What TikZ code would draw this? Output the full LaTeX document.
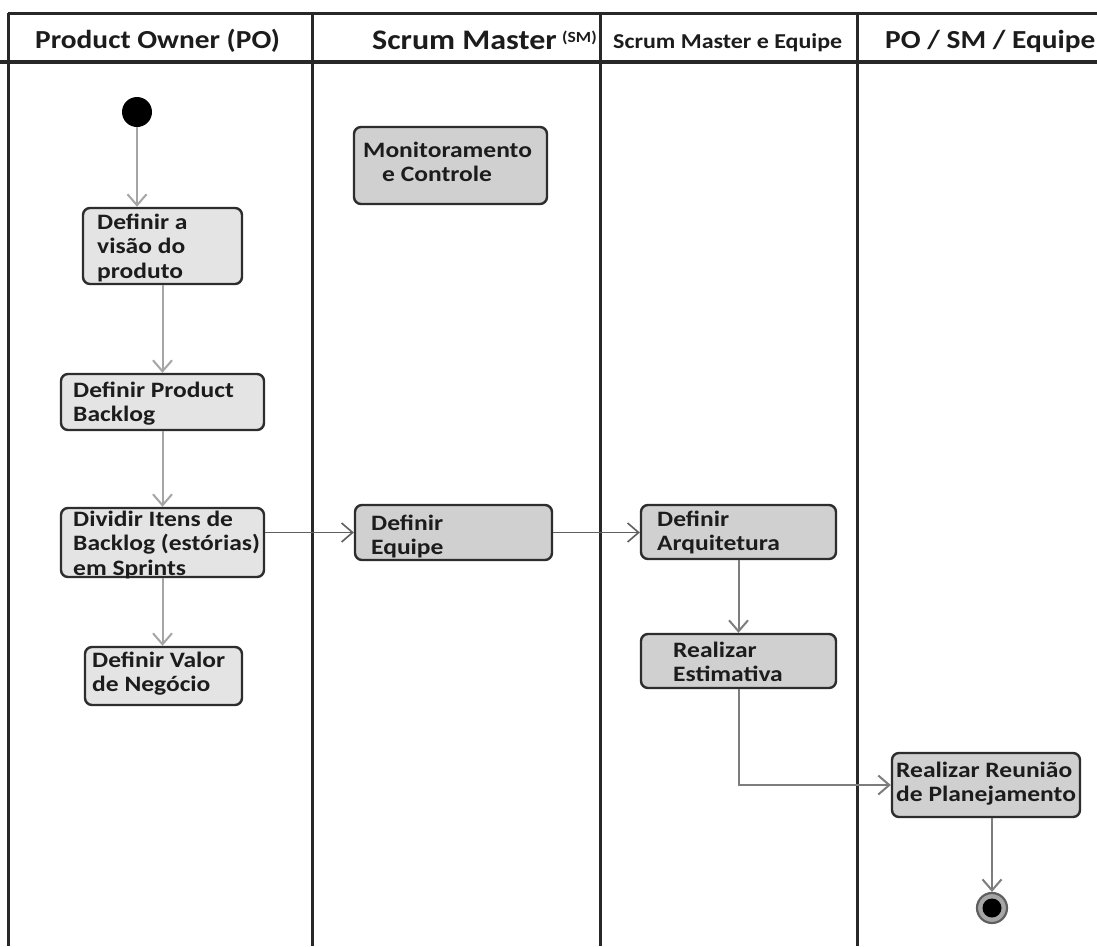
\documentclass[tikz,border=0pt]{standalone}
\usepackage{fontspec}
\newfontfamily\carl[FakeStretch=1.13]{Carlito}
\newfontfamily\carlbox[FakeStretch=1.16]{Carlito}
\usetikzlibrary{arrows.meta}

\definecolor{rule}{RGB}{40,40,40}
\definecolor{edge}{RGB}{45,45,45}
\definecolor{fillpo}{RGB}{228,228,228}
\definecolor{fillsm}{RGB}{208,208,208}
\definecolor{ink}{RGB}{28,28,28}
\definecolor{flowlight}{RGB}{165,165,165}
\definecolor{flowmid}{RGB}{125,125,125}
\definecolor{flowdark}{RGB}{95,95,95}

% stacked, left-aligned lines whose base is the first line's baseline
\newcommand{\boxlines}[1]{\begin{tabular}[t]{@{}l@{}}#1\end{tabular}}

\begin{document}
\begin{tikzpicture}[x=1pt,y=-1pt,
  box/.style={draw=edge, line width=2.4pt, rounded corners=7pt, inner sep=0pt},
  pobox/.style={box, fill=fillpo},
  smbox/.style={box, fill=fillsm},
  txt/.style={anchor=base west, inner sep=0pt, text=ink,
    font=\carlbox\bfseries\fontsize{22}{24.5}\selectfont},
  head/.style={anchor=base west, inner sep=0pt, text=ink,
    font=\carl\bfseries\fontsize{26}{30}\selectfont},
  lane/.style={draw=rule, line width=3pt},
  flow/.style={line width=2pt, -{Straight Barb[length=11pt,width=19pt]}},
]
\useasboundingbox (0,0) rectangle (1097,946);
\fill[white] (0,0) rectangle (1097,946);

% swimlane grid
\draw[lane] (8,13) -- (1097,13);
\draw[lane, line width=4pt] (0,62) -- (1097,62);
\foreach \x in {8,312,600,857} \draw[lane] (\x,13) -- (\x,946);

% lane headers
\node[head] (h1) at (35,48) {Product Owner (PO)};
\node[head, font=\carl\bfseries\fontsize{28.3}{32}\selectfont] (h2) at (372,49) {Scrum Master};
\node[head, font=\carl\bfseries\fontsize{15.5}{18}\selectfont] (h2s) at (562,42) {(SM)};
\node[head, font=\carl\bfseries\fontsize{21.2}{24}\selectfont] (h3) at (613,48) {Scrum Master e Equipe};
\node[head] (h4) at (885,48) {PO / SM / Equipe};

% activity boxes
\node[pobox, minimum width=159pt, minimum height=76pt] (viz) at (162.5,246) {};
\node[pobox, minimum width=203pt, minimum height=56pt] (backlog) at (162.5,402) {};
\node[pobox, minimum width=203pt, minimum height=69pt] (dividir) at (162.5,542.5) {};
\node[pobox, minimum width=157pt, minimum height=58pt] (valor) at (163.5,676) {};
\node[smbox, minimum width=193pt, minimum height=77pt] (monit) at (450.5,165.5) {};
\node[smbox, minimum width=197pt, minimum height=55pt] (equipe) at (453.5,532.5) {};
\node[smbox, minimum width=195pt, minimum height=54pt] (arq) at (738.5,532) {};
\node[smbox, minimum width=195pt, minimum height=54pt] (estim) at (738.5,661) {};
\node[smbox, minimum width=188pt, minimum height=64pt] (reuniao) at (986,785) {};

% box texts
\node[txt] (viz-t) at (97,229) {\boxlines{Definir a\\ visão do\\ produto}};
\node[txt] (backlog-t) at (73,397) {\boxlines{Definir Product\\ Backlog}};
\node[txt] (dividir-t) at (73,526) {\boxlines{Dividir Itens de\\ Backlog (estórias)\\ em Sprints}};
\node[txt] (valor-t) at (92,667) {\boxlines{Definir Valor\\ de Negócio}};
\node[txt] (monit-t) at (363,157) {\boxlines{Monitoramento\\ \hspace{19pt}e Controle}};
\node[txt] (equipe-t) at (371,530) {\boxlines{Definir\\ Equipe}};
\node[txt] (arq-t) at (657,526) {\boxlines{Definir\\ Arquitetura}};
\node[txt] (estim-t) at (673,657) {\boxlines{Realizar\\ Estimativa}};
\node[txt] (reuniao-t) at (896,777) {\boxlines{Realizar Reunião\\ de Planejamento}};

% initial and final states
\node[circle, fill=black, minimum size=30pt, inner sep=0pt] (start) at (137,112) {};
\node[circle, draw=flowdark, line width=2.2pt, fill=gray!70, minimum size=30pt, inner sep=0pt] (stop) at (992,908) {};
\node[circle, fill=black, minimum size=19pt, inner sep=0pt] (stopdot) at (stop) {};

% control flow
\draw[flow, draw=flowlight] (start) -- (start |- viz.north);
\draw[flow, draw=flowlight] (viz) -- (backlog);
\draw[flow, draw=flowlight] (backlog) -- (dividir);
\draw[flow, draw=flowlight] (dividir.south) -- (dividir.south |- valor.north);
\draw[flow, draw=flowdark, line width=1.6pt] (dividir.east |- equipe) -- (equipe);
\draw[flow, draw=flowdark, line width=1.6pt] (equipe.east) -- (equipe.east -| arq.west);
\draw[flow, draw=flowmid] (arq) -- (estim);
\draw[flow, draw=flowmid] (estim.south) |- (reuniao.west);
\draw[flow, draw=flowmid] (reuniao.south -| stop) -- (stop);
\end{tikzpicture}
\end{document}
